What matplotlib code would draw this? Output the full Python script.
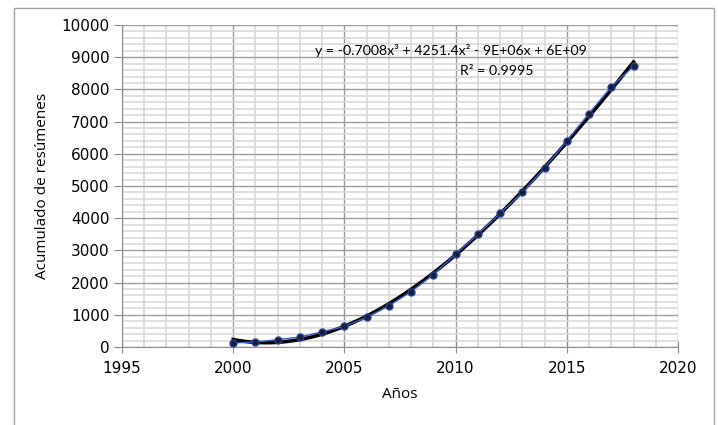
import numpy as np
import matplotlib
matplotlib.use("Agg")
import matplotlib.pyplot as plt
from matplotlib.ticker import MultipleLocator
from matplotlib.patches import Rectangle

# accumulated abstracts per year
years = [2000, 2001, 2002, 2003, 2004, 2005, 2006, 2007, 2008, 2009,
         2010, 2011, 2012, 2013, 2014, 2015, 2016, 2017, 2018]
acumulado = [130, 150, 230, 310, 470, 640, 920, 1280, 1720, 2250,
             2880, 3500, 4150, 4800, 5560, 6400, 7250, 8080, 8720]

eq_text = "y = -0.7008x³ + 4251.4x² - 9E+06x + 6E+09"
r2_text = "R² = 0.9995"

plt.rcParams['font.family'] = ['DejaVu Sans']

fig = plt.figure(figsize=(7.18, 4.25), dpi=100)
fig.patches.append(Rectangle((14 / 718, -0.01), 700 / 718, 1.0 - 8 / 425 + 0.01,
                             transform=fig.transFigure, fill=False,
                             edgecolor='#a0a0a0', linewidth=1.0))
ax = fig.add_axes([122 / 718, 1 - 347 / 425, (678 - 122) / 718, (347 - 25) / 425])

# polynomial trendline (3rd order), black
xs = np.array(years, dtype=float)
c = np.polyfit(xs - 2000, acumulado, 3)
xf = np.linspace(2000, 2018, 200)
ax.plot(xf, np.polyval(c, xf - 2000), color='black', linewidth=2.6, zorder=3)

ax.plot(years, acumulado, color='#3a5fcd', linewidth=1.0, marker='o',
        markersize=5, markerfacecolor='#14213d', markeredgecolor='#2a3f8f',
        zorder=4)

ax.set_xlim(1995, 2020)
ax.set_ylim(0, 10000)
ax.xaxis.set_major_locator(MultipleLocator(5))
ax.xaxis.set_minor_locator(MultipleLocator(1))
ax.yaxis.set_major_locator(MultipleLocator(1000))
ax.yaxis.set_minor_locator(MultipleLocator(200))

ax.grid(which='minor', color='#d9d9d9', linewidth=1.2)
ax.grid(which='major', color='#9a9a9a', linewidth=1.0)
ax.set_axisbelow(True)

for s in ['top', 'right']:
    ax.spines[s].set_visible(False)
for s in ['left', 'bottom']:
    ax.spines[s].set_color('#8c8c8c')

ax.tick_params(which='major', direction='out', length=6, color='#8c8c8c',
               labelsize=11, pad=3)
ax.tick_params(which='minor', length=0)
ax.tick_params(axis='x', direction='inout', length=8, pad=6)

ax.set_xlabel("Años", fontsize=11, labelpad=8, family=['Open Sans', 'DejaVu Sans'])
ax.set_ylabel("Acumulado de resúmenes", fontsize=11, labelpad=8,
              family=['Open Sans', 'DejaVu Sans'])

ax.text(2009.8, 9200, eq_text, ha='center', va='center', fontsize=10.2,
        family=['Lato', 'DejaVu Sans'])
ax.text(2011.85, 8580, r2_text, ha='center', va='center', fontsize=10.2,
        family=['Lato', 'DejaVu Sans'])

fig.savefig("out.png", dpi=100)
